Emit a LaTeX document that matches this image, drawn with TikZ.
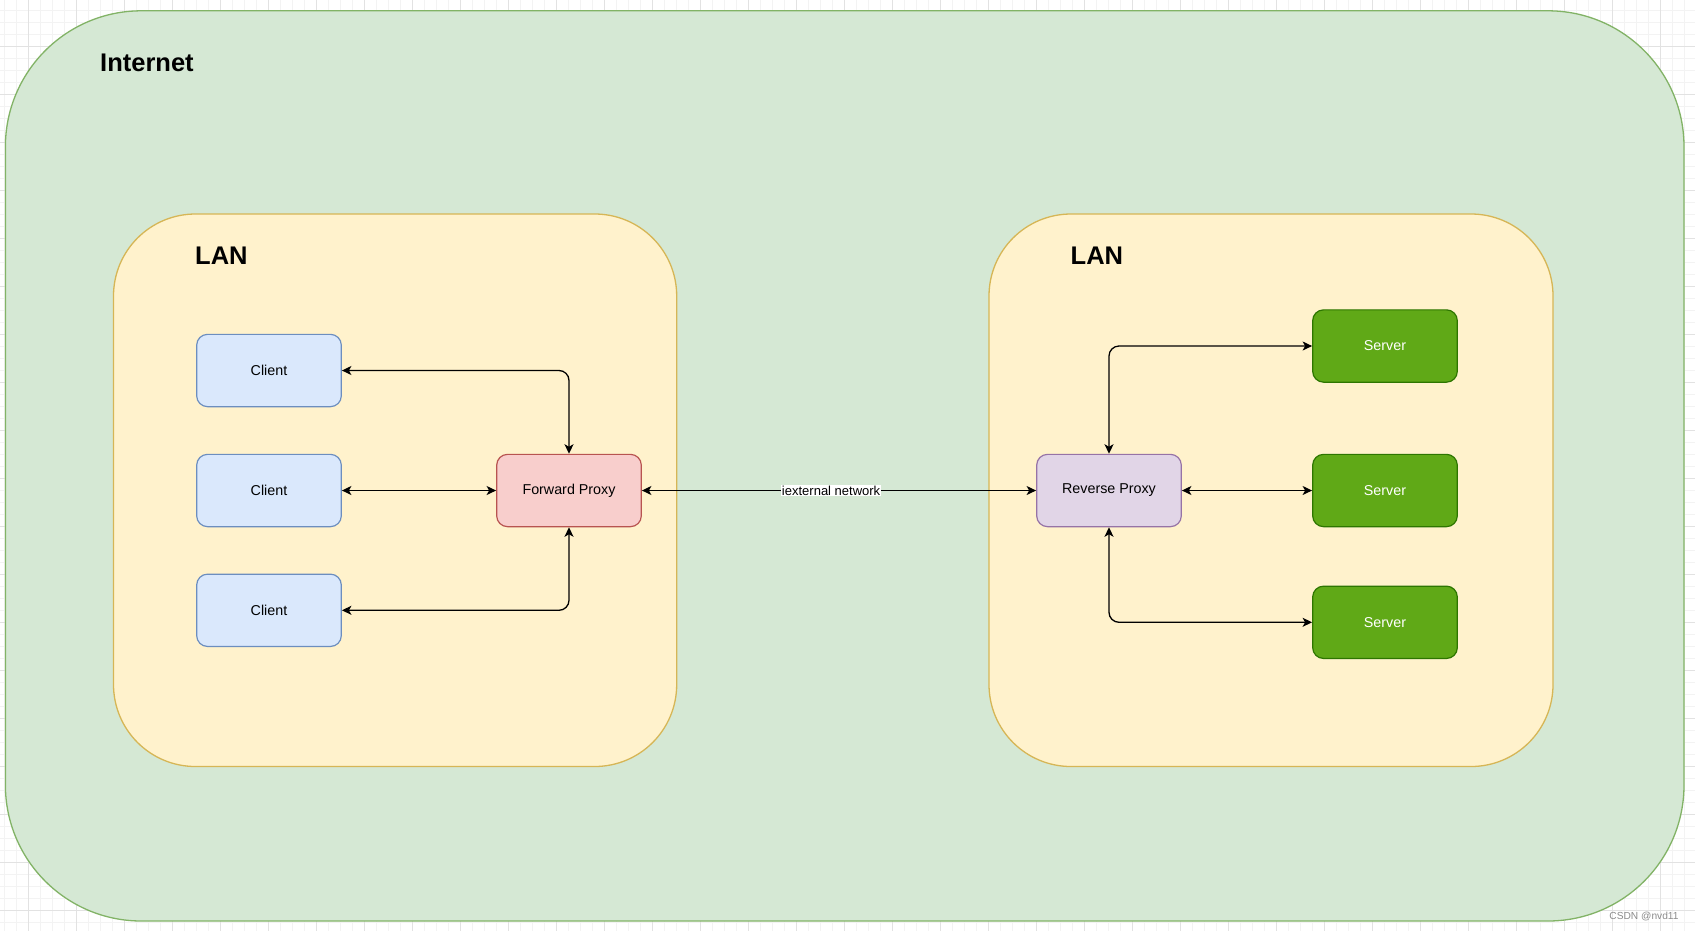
\documentclass[tikz,border=0pt]{standalone}
\usepackage{fontspec}
\setmainfont{Liberation Sans}
\usepackage{xcolor}
\usetikzlibrary{arrows.meta,positioning,calc}
\definecolor{netfill}{HTML}{D5E8D4}
\definecolor{netline}{HTML}{82B366}
\definecolor{lanfill}{HTML}{FFF2CC}
\definecolor{lanline}{HTML}{D6B656}
\definecolor{clientfill}{HTML}{DAE8FC}
\definecolor{clientline}{HTML}{6C8EBF}
\definecolor{fwdfill}{HTML}{F8CECC}
\definecolor{fwdline}{HTML}{B85450}
\definecolor{revfill}{HTML}{E1D5E7}
\definecolor{revline}{HTML}{9673A6}
\definecolor{serverfill}{HTML}{60A917}
\definecolor{serverline}{HTML}{2D7600}
\definecolor{gridminor}{HTML}{F3F3F3}
\definecolor{gridmajor}{HTML}{E2E2E2}

\begin{document}
\begin{tikzpicture}[
    x=1pt, y=-1pt,
    box/.style={rectangle, draw, line width=1.2pt, rounded corners=10.8pt, minimum width=144.6pt, minimum height=72.3pt, align=center, font=\fontsize{14.3}{17}\selectfont},
    clientbox/.style={box, fill=clientfill, draw=clientline},
    fwdbox/.style={box, fill=fwdfill, draw=fwdline},
    revbox/.style={box, fill=revfill, draw=revline},
    serverbox/.style={box, fill=serverfill, draw=serverline, text=white},
    title/.style={font=\fontsize{25.5}{30}\selectfont\bfseries, anchor=base west, inner sep=0pt},
    arrow/.style={{Stealth[length=9.5pt,width=9pt,inset=2.5pt]}-{Stealth[length=9.5pt,width=9pt,inset=2.5pt]}, line width=1.3pt},
    elbow/.style={arrow, rounded corners=10pt}
]
\useasboundingbox (0,0) rectangle (1695,930);
\fill[white] (0,0) rectangle (1695,930);

% background grid
\draw[gridminor, line width=0.8pt, step=12pt, shift={(4.3,10.3)}] (-12,-12) grid (1700,930);
\draw[gridmajor, line width=0.9pt, step=48pt, shift={(28.3,46.3)}] (-48,-48) grid (1680,900);

% areas
\draw[fill=netfill, draw=netline, line width=1.3pt, rounded corners=136pt] (5.4,10.8) rectangle (1684,921);
\node[title] (inet) at (100,71.7) {Internet};

\draw[fill=lanfill, draw=lanline, line width=1.3pt, rounded corners=82pt] (113.5,214) rectangle (676.7,766.5);
\node[title] (lanL) at (195,264.3) {LAN};

\draw[fill=lanfill, draw=lanline, line width=1.3pt, rounded corners=82pt] (989,214) rectangle (1553,766.5);
\node[title] (lanR) at (1070.5,264.3) {LAN};

% left LAN
\node[clientbox] (c1) at (269,370.5) {Client};
\node[clientbox] (c2) at (269,490.5) {Client};
\node[clientbox] (c3) at (269,610.3) {Client};
\node[fwdbox] (fwd) at (569,490.5) {Forward Proxy};

% right LAN
\node[revbox] (rev) at (1109,490.5) {Reverse Proxy};
\node[serverbox] (s1) at (1385,346) {Server};
\node[serverbox] (s2) at (1385,490.5) {Server};
\node[serverbox] (s3) at (1385,622.3) {Server};

% connectors
\draw[elbow] (c1.east) -| (fwd.north);
\draw[arrow] (c2.east) -- (fwd.west);
\draw[elbow] (c3.east) -| (fwd.south);
\draw[arrow] (fwd.east) -- (rev.west) node[pos=0.48, fill=white, inner sep=0.8pt, font=\fontsize{13}{15}\selectfont] {iexternal network};
\draw[elbow] (rev.north) |- (s1.west);
\draw[arrow] (rev.east) -- (s2.west);
\draw[elbow] (rev.south) |- (s3.west);

% watermark
\node[text=black!45, font=\fontsize{10.2}{12}\selectfont] (mark) at (1644,916) {CSDN @nvd11};
\end{tikzpicture}
\end{document}
